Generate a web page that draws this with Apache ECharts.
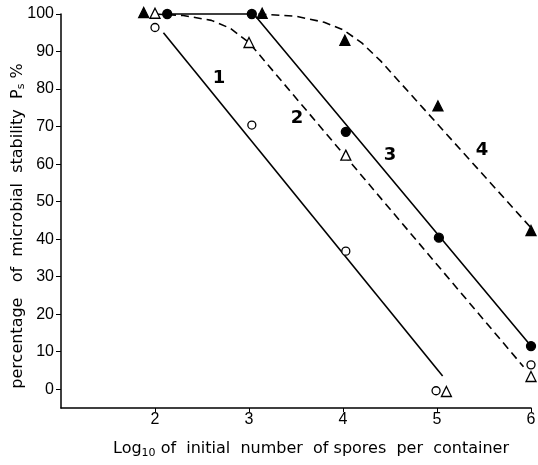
<!DOCTYPE html>
<html><head><meta charset="utf-8">
<script src="https://cdn.jsdelivr.net/npm/echarts@6/dist/echarts.min.js"></script>
<style>html,body{margin:0;padding:0;background:#fff}#c{width:538px;height:465px}</style>
</head><body><div id="c"></div>
<script>
// Measured points
const openCircles = [[2.0, 96.4], [3.03, 70.4], [4.03, 36.8], [4.99, -0.4], [6.0, 6.5]];
const openTriangles = [[2.0, 100.2], [3.0, 92.4], [4.03, 62.4], [5.1, -0.6], [6.0, 3.4]];
const filledCircles = [[2.13, 100], [3.03, 100], [4.03, 68.6], [5.02, 40.4], [6.0, 11.5]];
const filledTriangles = [[1.88, 100.4], [3.14, 100.2], [4.02, 93.0], [5.01, 75.5], [6.0, 42.3]];
// Fitted curves
const curve1 = [[2.09, 95], [5.06, 3.5]];
const curve2 = [[2.0, 100], [2.3, 99.6], [2.6, 98.3], [2.8, 96.2], [3.0, 92.4], [5.92, 6]];
const curve3 = [[2.13, 100], [3.05, 100], [6.0, 11.5]];
const curve4 = [[3.1, 100], [3.5, 99.4], [3.8, 97.8], [4.0, 95.8], [4.2, 92.3], [4.4, 87.5], [6.0, 43]];
const curveLabels = [["1", 2.68, 82.9], ["2", 3.51, 72.3], ["3", 4.5, 62.4], ["4", 5.48, 63.7]];
const xTicks = [2, 3, 4, 5, 6];
const yTicks = [0, 10, 20, 30, 40, 50, 60, 70, 80, 90, 100];

const NUMFONT = "'Liberation Sans', sans-serif";
const FONT = "'DejaVu Sans', sans-serif";
const chart = echarts.init(document.getElementById('c'));
const lineS = (data, dashed) => ({
  type: 'line', data, symbol: 'none', smooth: false, silent: true, clip: false,
  lineStyle: { color: '#000', width: 1.6, type: dashed ? [8, 5] : 'solid' }, z: 2
});
const scat = (data, symbol, filled, size) => ({
  type: 'scatter', data, symbol, symbolSize: size, z: 3, clip: false,
  itemStyle: { color: filled ? '#000' : '#fff', borderColor: '#000', borderWidth: 1.3, opacity: 1 }
});
chart.setOption({
  animation: false,
  backgroundColor: '#fff',
  grid: { left: 61, right: 7, top: 14, bottom: 57, containLabel: false, outerBoundsMode: 'none' },
  xAxis: {
    type: 'value', min: 1, max: 6, interval: 1,
    splitLine: { show: false },
    axisLine: { onZero: false, lineStyle: { color: '#000', width: 1.5 } },
    axisTick: { show: true, length: 4, lineStyle: { color: '#000' }, customValues: xTicks },
    axisLabel: { color: '#000', fontFamily: NUMFONT, fontSize: 16, margin: 4, customValues: xTicks },
    name: 'Log{sub|10} of  initial  number  of spores  per  container',
    nameLocation: 'middle', nameGap: 31, nameMoveOverlap: false,
    nameTextStyle: {
      color: '#000', fontFamily: FONT, fontSize: 16, padding: [0, 0, 0, 30],
      rich: { sub: { fontSize: 11, fontFamily: FONT, color: '#000', padding: [9, 0, 0, 0] } }
    }
  },
  yAxis: {
    type: 'value', min: -5, max: 100,
    splitLine: { show: false },
    axisLine: { show: true, onZero: false, lineStyle: { color: '#000', width: 1.5 } },
    axisTick: { show: true, length: 5, lineStyle: { color: '#000' }, customValues: yTicks },
    axisLabel: { color: '#000', fontFamily: NUMFONT, fontSize: 16, margin: 7, customValues: yTicks },
    name: 'percentage   of  microbial  stability  P{sub|s} %',
    nameLocation: 'middle', nameGap: 34, nameRotate: 90, nameMoveOverlap: false,
    nameTextStyle: {
      color: '#000', fontFamily: FONT, fontSize: 16, padding: [0, 30, 0, 0],
      rich: { sub: { fontSize: 11, fontFamily: FONT, color: '#000', padding: [7, 0, 0, 0] } }
    }
  },
  series: [
    lineS(curve1, false), lineS(curve2, true), lineS(curve3, false), lineS(curve4, true),
    scat(openCircles, 'circle', false, 8),
    scat(openTriangles, 'triangle', false, 10),
    scat(filledCircles, 'circle', true, 9),
    scat(filledTriangles, 'triangle', true, 10),
    {
      type: 'scatter', symbol: 'circle', symbolSize: 0, silent: true, z: 5,
      itemStyle: { color: '#000', opacity: 1 },
      data: curveLabels.map(d => ({ value: [d[1], d[2]], name: d[0] })),
      label: {
        show: true, position: [0, 0], align: 'center', verticalAlign: 'middle',
        formatter: p => '{n|' + p.name + '}',
        rich: { n: { color: '#000', fontFamily: FONT, fontSize: 18, fontWeight: 'bold' } }
      }
    }
  ]
});
</script></body></html>
